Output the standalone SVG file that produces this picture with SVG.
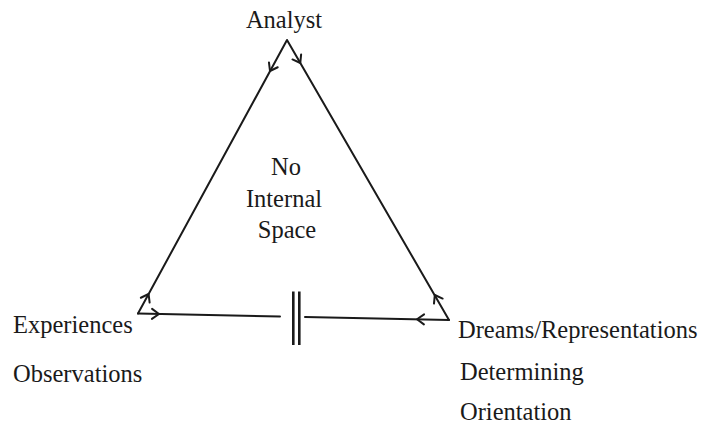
<svg xmlns="http://www.w3.org/2000/svg" xmlns:xlink="http://www.w3.org/1999/xlink" width="709" height="427" viewBox="0 0 709 427">
<style>
.t{font-family:"Liberation Serif","Times New Roman",serif;font-size:24.5px;fill:#1a1a1a}
.ln{fill:none;stroke:#1a1a1a;stroke-width:2;stroke-linecap:round;stroke-linejoin:round}
.bar{fill:none;stroke:#1a1a1a;stroke-width:2.6}
</style>
<defs>
<path id="chev" d="M-7,-5 L0,0 L-7,5" class="ln"/>
</defs>
<rect width="709" height="427" fill="#ffffff"/>
<g id="connectors">
<path class="ln" d="M138,313.5 L287,40 L449,320"/>
<path class="ln" d="M138,313.5 L280,316.5"/>
<path class="ln" d="M305,317 L449,320"/>
<use xlink:href="#chev" transform="translate(270,71) rotate(118.6)"/>
<use xlink:href="#chev" transform="translate(300.3,63) rotate(60)"/>
<use xlink:href="#chev" transform="translate(148.6,294) rotate(-61.4)"/>
<use xlink:href="#chev" transform="translate(159,314) rotate(1)"/>
<use xlink:href="#chev" transform="translate(434.8,295) rotate(-120)"/>
<use xlink:href="#chev" transform="translate(417,319.3) rotate(181)"/>
<g id="barrier">
<line class="bar" x1="293.3" y1="291.5" x2="293.3" y2="345"/>
<line class="bar" x1="299.3" y1="291.5" x2="299.3" y2="345"/>
</g>
</g>
<g id="analyst"><text class="t" x="284" y="28" text-anchor="middle">Analyst</text></g>
<g id="center"><text class="t" text-anchor="middle"><tspan x="286" y="175">No</tspan><tspan x="284" y="207">Internal</tspan><tspan x="287" y="238">Space</tspan></text></g>
<g id="experiences"><text class="t" x="13" y="333">Experiences</text><text class="t" x="13" y="382">Observations</text></g>
<g id="dreams"><text class="t" x="458" y="338">Dreams/Representations</text><text class="t" x="460" y="380">Determining</text><text class="t" x="460" y="420">Orientation</text></g>
</svg>
